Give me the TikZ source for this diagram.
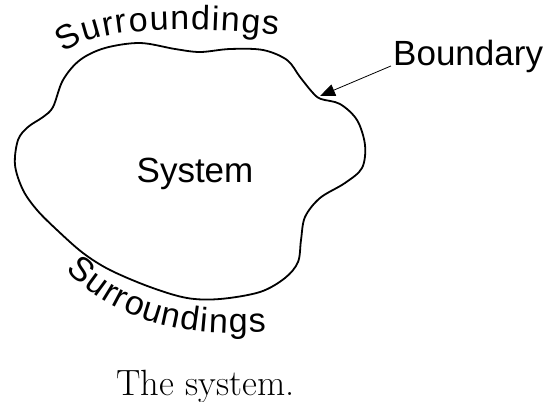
\documentclass[tikz,border=0pt]{standalone}
\usepackage{fontspec}
\newfontfamily\arialf{Liberation Sans}
\usetikzlibrary{arrows.meta,decorations.text}
\tikzset{
  outline/.style={line width=1.8pt, line join=round},
  label/.style={font=\arialf\fontsize{35}{40}\selectfont, inner sep=0pt},
  caption/.style={font=\fontsize{36.5}{40}\selectfont, inner sep=0pt},
  pointer/.style={line width=0.8pt, -{Triangle[length=15pt,width=12pt]}},
  curvedtext/.style={decorate, decoration={text along path, text align=fit to path,
     text={|\arialf\fontsize{34}{40}\selectfont|Surroundings}}}
}
\begin{document}
\begin{tikzpicture}[x=1pt,y=-1pt]
\useasboundingbox (0,0) rectangle (547,402);
% boundary outline
\draw[outline] plot[smooth cycle, tension=0.55] coordinates {
 (140,43) (175,49) (200,52) (230,49) (263,50) (287,60) (300,77) (313,93)
 (321,99) (340,104) (357,120) (365,145) (362,168) (345,183) (320,198)
 (305,217) (301,240) (298,262) (285,278) (260,292) (220,299) (187,298)
 (150,287) (110,270) (83,253) (57,230) (37,210) (23,190) (15,165) (18,140)
 (28,127) (43,117) (53,107) (63,80) (80,60) (105,48)};
\coordinate (bpt) at (320,96);
% curved labels
\path[curvedtext] (64,54) .. controls (90,29) and (170,25) .. (278,35);
\path[curvedtext] (66,270) .. controls (118,322) and (180,337) .. (266,332);
% labels
\node[label, anchor=base] (sys) at (195,182) {System};
\node[label, anchor=base west] (bnd) at (393,65) {Boundary};
\draw[pointer] (bnd.west) ++(-2pt,-10pt) coordinate (bstart) (bstart) -- (bpt);
\node[caption, anchor=base] (cap) at (205.5,395) {The system.};
\end{tikzpicture}
\end{document}
